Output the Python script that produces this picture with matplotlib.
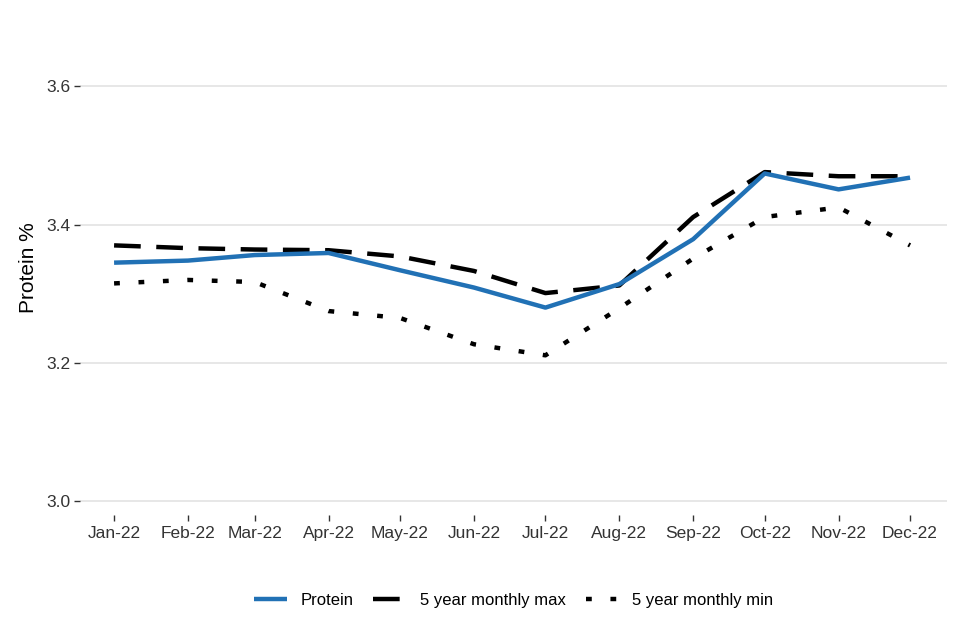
import matplotlib
matplotlib.use("Agg")
import matplotlib.pyplot as plt
import numpy as np
import pandas as pd

# ---------- data ----------

months = pd.date_range("2022-01-01", "2022-12-01", freq="MS")
tick_labels = ["Jan-22", "Feb-22", "Mar-22", "Apr-22", "May-22", "Jun-22",
               "Jul-22", "Aug-22", "Sep-22", "Oct-22", "Nov-22", "Dec-22"]

protein = [3.345, 3.348, 3.356, 3.359, 3.334, 3.309,
           3.280, 3.314, 3.379, 3.474, 3.451, 3.468]
max_5yr = [3.370, 3.366, 3.364, 3.363, 3.354, 3.333,
           3.301, 3.312, 3.411, 3.476, 3.470, 3.470]
min_5yr = [3.315, 3.320, 3.317, 3.275, 3.265, 3.227,
           3.211, 3.279, 3.351, 3.411, 3.425, 3.370]

y_ticks = [3.0, 3.2, 3.4, 3.6]

# ---------- plot ----------

plt.rcParams["font.family"] = ["Liberation Sans", "DejaVu Sans"]

fig = plt.figure(figsize=(9.6, 6.4), dpi=100)
ax = fig.add_axes([80 / 960, 1 - 515 / 640, 867 / 960, 495 / 640])

ax.plot(months, protein, color="#2171b5", lw=3.2, label="Protein",
        solid_capstyle="butt", zorder=3)
ax.plot(months, max_5yr, color="black", lw=3.2, label="5 year monthly max",
        linestyle=(0, (6, 3.5)), zorder=2)
ax.plot(months, min_5yr, color="black", lw=3.2, label="5 year monthly min",
        linestyle=(0, (1.3, 4.2)), zorder=2)

ax.set_xlim(months[0] - pd.Timedelta(days=14.3),
            months[-1] + pd.Timedelta(days=15.5))
ax.set_ylim(2.98, 3.696)

ax.set_xticks(months)
ax.set_xticklabels(tick_labels)
ax.set_yticks(y_ticks)
ax.set_yticklabels([f"{v:.1f}" for v in y_ticks])

ax.grid(axis="y", color="#e5e5e5", lw=1.3)
ax.grid(axis="x", visible=False)
ax.set_axisbelow(True)
for side in ax.spines.values():
    side.set_visible(False)

ax.tick_params(axis="both", colors="#333333", labelsize=12.5, length=4,
               width=1, pad=4)
ax.tick_params(axis="y", pad=3)

ax.set_ylabel("Protein %", fontsize=15, color="black", labelpad=6)

ax.legend(loc="upper center", bbox_to_anchor=(0.5, -0.127), ncol=3,
          frameon=False, fontsize=12, handlelength=2.0, columnspacing=1.2,
          handletextpad=0.8)

fig.savefig("out.png", dpi=100)
